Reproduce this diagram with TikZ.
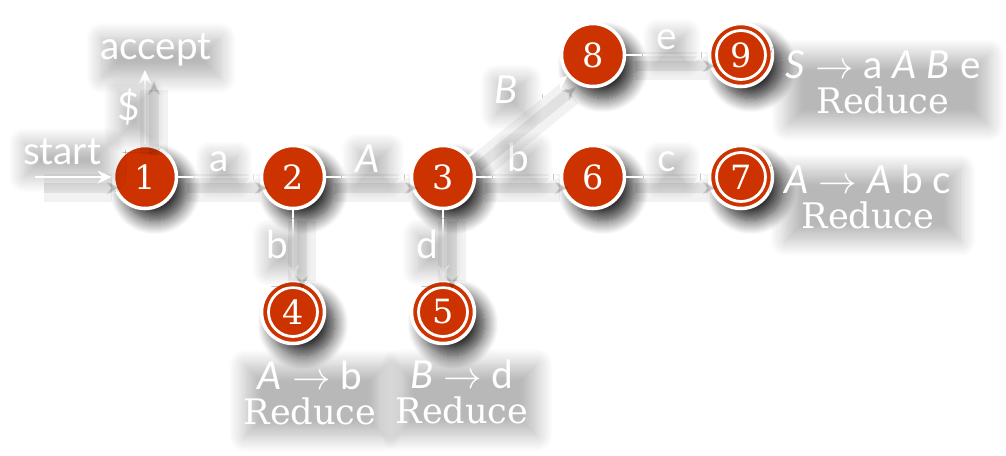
\documentclass[tikz,border=0pt]{standalone}
\usepackage{fontspec}
\setmainfont{Lato}
\newfontfamily\slabfont{DejaVu Serif}
\usetikzlibrary{arrows.meta, shadows.blur}
\definecolor{statered}{HTML}{CC3300}
\tikzset{
  state/.style={draw=white, circle, fill=statered, line width=1pt, minimum size=0.63cm,
    inner sep=0pt, text=white, font=\slabfont\fontsize{9.5}{9.5}\selectfont,
    blur shadow={shadow xshift=0.1cm, shadow yshift=-0.12cm, shadow blur radius=0.14cm,
      shadow blur steps=14, shadow opacity=85}},
  final/.style={state, path picture={\draw[white, line width=0.8pt]
      (path picture bounding box.center) circle (0.245cm);}},
  lbl/.style={text=white, font=\fontsize{11}{10}\selectfont, inner sep=1pt,
    blur shadow={shadow xshift=0.05cm, shadow yshift=-0.08cm, shadow blur radius=0.16cm,
      shadow blur steps=16, shadow opacity=28}},
  rule/.style={lbl, align=center},
  arr/.style={->, white, line width=0.7pt,
    preaction={draw=black, opacity=0.05, line width=8pt, transform canvas={shift={(0.09cm,-0.11cm)}}},
    preaction={draw=black, opacity=0.07, line width=3pt, transform canvas={shift={(0.09cm,-0.11cm)}}}},
}
\newcommand{\reducetxt}{{\slabfont\fontsize{10}{10}\selectfont Reduce}}
\begin{document}
\begin{tikzpicture}[>={Stealth[length=4pt, width=3.6pt]}, node distance=1.5cm]
    \useasboundingbox (-1.45,-2.78) rectangle (8.61,1.77);
    % states
    \node[state] (n1) at (0,0) {1};
    \node[state, right of=n1, xshift=-0.02cm] (n2) {2};
    \node[state, right of=n2] (n3) {3};
    \node[state, right of=n3] (n6) {6};
    \node[final, right of=n6, xshift=-0.02cm] (n7) {7};
    \node[state, above of=n6, yshift=-0.28cm] (n8) {8};
    \node[final, right of=n8, xshift=-0.02cm] (n9) {9};
    \node[final, below of=n2, yshift=0.15cm] (n4) {4};
    \node[final, below of=n3, yshift=0.15cm] (n5) {5};
    % start and accept
    \coordinate[left of=n1, xshift=0.4cm] (s0);
    \coordinate[above of=n1, yshift=-0.43cm] (acc);
    \node[lbl, above of=s0, yshift=-1.25cm, xshift=0.27cm] (start) {start};
    \node[lbl, above of=acc, yshift=-1.3cm, xshift=0.11cm] (accept) {accept};
    % transitions
    \draw[arr] (s0) -- (n1);
    \draw[arr] (n1) -- node[lbl, left] (ldollar) {\$} (acc);
    \draw[arr] (n1) -- node[lbl, above] (la) {a} (n2);
    \draw[arr] (n2) -- node[lbl, above] (lA) {\textit{A}} (n3);
    \draw[arr] (n3) -- node[lbl, above] (lb) {b} (n6);
    \draw[arr] (n6) -- node[lbl, above] (lc) {c} (n7);
    \draw[arr] (n3) -- node[lbl, above left, pos=0.6, xshift=-0.05cm] (lB) {\textit{B}} (n8);
    \draw[arr] (n8) -- node[lbl, above] (le) {e} (n9);
    \draw[arr] (n2) -- node[lbl, left] (lb2) {b} (n4);
    \draw[arr] (n3) -- node[lbl, left] (ld) {d} (n5);
    % reductions
    \node[rule, right of=n9, xshift=-0.08cm, yshift=-0.27cm] (r9)
        {\textit{S} $\rightarrow$ a \textit{A} \textit{B} e\\\reducetxt};
    \node[rule, right of=n7, xshift=-0.23cm, yshift=-0.2cm] (r7)
        {\textit{A} $\rightarrow$ \textit{A} b c\\\reducetxt};
    \node[rule, below of=n4, yshift=0.69cm, xshift=0.17cm] (r4)
        {\textit{A} $\rightarrow$ b\\\reducetxt};
    \node[rule, below of=n5, yshift=0.7cm, xshift=0.19cm] (r5)
        {\textit{B} $\rightarrow$ d\\\reducetxt};
\end{tikzpicture}
\end{document}
